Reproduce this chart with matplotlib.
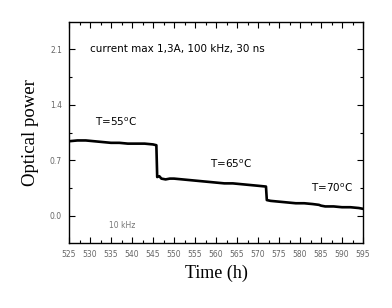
import numpy as np
import matplotlib
matplotlib.use("Agg")
import matplotlib.pyplot as plt
from matplotlib.ticker import MultipleLocator

# ------------------- data -------------------
time_h = [525, 527, 529, 531, 533, 535, 537, 539, 541, 543, 545, 545.8,
          546.0, 546.5, 547, 548, 549, 550, 552, 554, 556, 558, 560, 562,
          564, 566, 568, 570, 571.9,
          572.1, 573, 575, 577, 579, 581, 583, 584.5, 585, 586, 588, 590,
          592, 594, 595]
power = [0.94, 0.95, 0.95, 0.94, 0.93, 0.92, 0.92, 0.91, 0.91, 0.91, 0.90, 0.89,
         0.49, 0.50, 0.47, 0.46, 0.47, 0.47, 0.46, 0.45, 0.44, 0.43, 0.42, 0.41,
         0.41, 0.40, 0.39, 0.38, 0.37,
         0.20, 0.19, 0.18, 0.17, 0.16, 0.16, 0.15, 0.14, 0.13, 0.12, 0.12, 0.11,
         0.11, 0.10, 0.09]

x_ticks = np.arange(525, 596, 5)
y_ticks = [0.0, 0.7, 1.4, 2.1]

# (x, y) in axes fraction, label
temp_labels = [(0.088, 0.547, "55"), (0.48, 0.357, "65"), (0.823, 0.249, "70")]

fig = plt.figure(figsize=(3.92, 3.08), dpi=100)
ax = fig.add_axes([69 / 392, 1 - 243 / 308, 294 / 392, 221 / 308])

ax.plot(time_h, power, color="black", lw=1.9)

ax.set_xlim(525, 595)
ax.set_ylim(-0.34, 2.44)
ax.set_xticks(x_ticks)
ax.set_yticks(y_ticks)
ax.xaxis.set_minor_locator(MultipleLocator(2.5))
ax.yaxis.set_minor_locator(MultipleLocator(0.35))
ax.tick_params(which="both", direction="in", top=True, right=True,
               labelsize=5.5, labelcolor="#666666", width=0.8)
ax.tick_params(which="major", length=4, pad=5)
ax.tick_params(which="minor", length=2)
ax.set_yticklabels([f"{v:.1f}" for v in y_ticks])
for s in ax.spines.values():
    s.set_linewidth(1.0)

serif = ["Liberation Serif", "DejaVu Serif"]
ax.set_xlabel("Time (h)", family=serif, fontsize=13, labelpad=4)
ax.set_ylabel("Optical power", family=serif, fontsize=13.5, labelpad=8)

ax.text(0.071, 0.878, "current max 1,3A, 100 kHz, 30 ns", transform=ax.transAxes,
        fontsize=7.5, va="center")
for x, y, t in temp_labels:
    ax.text(x, y, f"T={t}$^{{\\mathrm{{o}}}}$C", transform=ax.transAxes,
            fontsize=7.5, va="center")
ax.text(0.136, 0.077, "10 kHz", transform=ax.transAxes, fontsize=5.5,
        color="#777777", va="center")

fig.savefig("out.png", dpi=100)
